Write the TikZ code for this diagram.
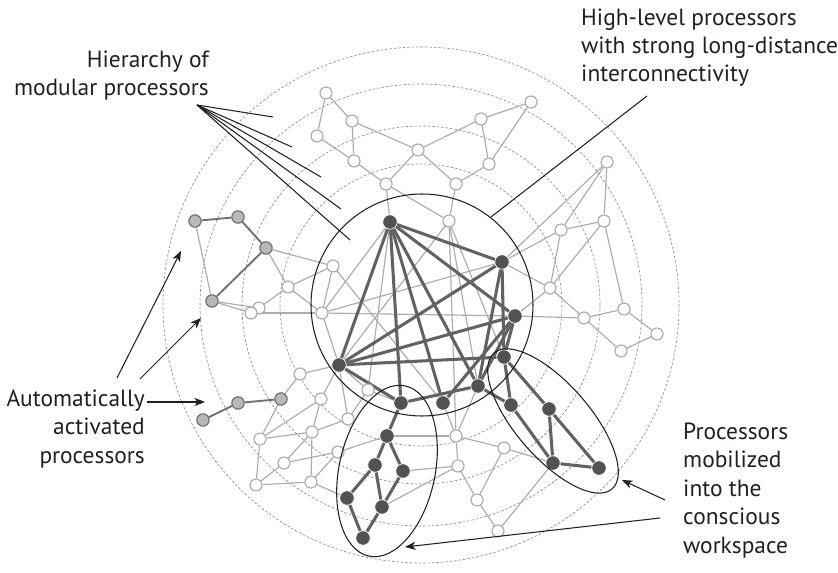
\documentclass[tikz,border=0pt]{standalone}
\usepackage{fontspec}
\setmainfont{PT Sans}
\usepackage{xcolor}
\definecolor{ColD}{RGB}{82,82,82}
\definecolor{ColDE}{RGB}{98,98,98}
\definecolor{ColL}{RGB}{172,172,172}
\definecolor{ColG}{RGB}{184,184,184}
\definecolor{ColGD}{RGB}{112,112,112}
\definecolor{ColR}{RGB}{140,140,140}
\definecolor{ColT}{RGB}{35,31,32}
\usetikzlibrary{arrows.meta}
\usetikzlibrary{backgrounds}
\tikzstyle{NodeW}=[circle,draw=ColL,fill=white,line width=1pt,inner sep=0pt,
minimum size=.36cm]
\tikzstyle{NodeD}=[circle,draw=white,fill=ColD,line width=.5pt,inner sep=0pt,
minimum size=.43cm]
\tikzstyle{NodeG}=[circle,draw=ColGD,fill=ColG,line width=1pt,inner sep=0pt,
minimum size=.37cm]
\tikzstyle{Edge}=[draw=ColL,line width=1pt]
\tikzstyle{EdgeS}=[draw=ColDE,line width=2.6pt]
\tikzstyle{EdgeG}=[draw=ColGD,line width=1.6pt]
\tikzstyle{Ring}=[draw=ColR,line width=.55pt,dash pattern=on 2.2pt off 1.6pt]
\tikzstyle{Hull}=[draw=ColT,line width=.9pt]
\tikzstyle{Pointer}=[draw=ColT,line width=.9pt]
\tikzstyle{PointerA}=[Pointer,-{Stealth[length=9pt,width=7pt,inset=2.5pt]}]
\tikzstyle{Label}=[font=\fontsize{20}{24.3}\selectfont,text=ColT,inner sep=0pt]

\begin{document}
\begin{tikzpicture}[x=.03cm,y=-.03cm]
        \useasboundingbox(0,0)rectangle(838,573);
        % workspace processors
        \node[NodeD](d1)at(390,222){};
        \node[NodeD](d2)at(502,262){};
        \node[NodeD](d3)at(515,316){};
        \node[NodeD](d4)at(339,365){};
        \node[NodeD](d5)at(504,357){};
        \node[NodeD](d6)at(478,386){};
        \node[NodeD](d7)at(443,403){};
        \node[NodeD](d8)at(401,403){};
        \node[NodeD](e1)at(511,405){};
        \node[NodeD](e2)at(549,409){};
        \node[NodeD](e3)at(553,463){};
        \node[NodeD](e4)at(599,468){};
        \node[NodeD](f1)at(387,436){};
        \node[NodeD](f2)at(375,465){};
        \node[NodeD](f3)at(403,471){};
        \node[NodeD](f4)at(347,498){};
        \node[NodeD](f5)at(382,507){};
        \node[NodeD](f6)at(363,538){};
        % automatically activated
        \node[NodeG](g1)at(195,221){};
        \node[NodeG](g2)at(238,217){};
        \node[NodeG](g3)at(266,248){};
        \node[NodeG](g4)at(212,301){};
        \node[NodeG](g5)at(203,420){};
        \node[NodeG](g6)at(238,403){};
        \node[NodeG](g7)at(281,399){};
        % modular processors
        \node[NodeW](a1)at(326,93){};
        \node[NodeW](a2)at(352,121){};
        \node[NodeW](a3)at(317,136){};
        \node[NodeW](a4)at(354,161){};
        \node[NodeW](a5)at(418,150){};
        \node[NodeW](a6)at(386,184){};
        \node[NodeW](a7)at(456,184){};
        \node[NodeW](a8)at(481,119){};
        \node[NodeW](a9)at(489,164){};
        \node[NodeW](a10)at(531,102){};
        \node[NodeW](a11)at(449,221){};
        \node[NodeW](b1)at(607,162){};
        \node[NodeW](b2)at(604,221){};
        \node[NodeW](b3)at(561,230){};
        \node[NodeW](b4)at(550,288){};
        \node[NodeW](b5)at(624,309){};
        \node[NodeW](b6)at(584,318){};
        \node[NodeW](b7)at(657,334){};
        \node[NodeW](b8)at(621,351){};
        \node[NodeW](c1)at(333,266){};
        \node[NodeW](c2)at(288,287){};
        \node[NodeW](c3)at(259,308){};
        \node[NodeW](c4)at(251,313){};
        \node[NodeW](c5)at(322,313){};
        \node[NodeW](l1)at(300,374){};
        \node[NodeW](l2)at(321,399){};
        \node[NodeW](l3)at(348,419){};
        \node[NodeW](l4)at(312,432){};
        \node[NodeW](l5)at(260,439){};
        \node[NodeW](l6)at(284,463){};
        \node[NodeW](l7)at(338,452){};
        \node[NodeW](l8)at(256,485){};
        \node[NodeW](l9)at(311,482){};
        \node[NodeW](l10)at(368,390){};
        \node[NodeW](w1)at(456,436){};
        \node[NodeW](w2)at(504,448){};
        \node[NodeW](w3)at(458,466){};
        \node[NodeW](w4)at(477,500){};
        \node[NodeW](w5)at(498,531){};
        \begin{pgfonlayer}{background}
        \foreach \r in {141,179,221,258}
            \draw[Ring](421,305)circle[radius=\r];
        \foreach \s/\t in {a1/a2,a1/a3,a2/a4,a3/a4,a2/a5,a4/a6,a5/a6,a6/d1,
            a5/a7,a5/a8,a8/a9,a8/a10,a10/a9,a9/a7,a7/a11,a6/a11,
            b1/b2,b1/b3,b1/d2,b2/b3,b2/b4,b2/b5,b3/b4,b3/d2,b4/d3,b4/d2,
            b4/b6,b6/b5,b6/d3,b5/b7,b6/b8,b8/b7,
            g1/g4,g3/c1,g3/c2,c1/c2,c2/c3,c2/c5,g4/c3,g4/c4,c4/c5,c1/c5,
            c5/d3,c5/d2,c5/d4,c5/d1,c1/d7,
            a11/d4,a11/d6,a11/d5,a11/w1,d1/l10,
            g7/l1,g7/l5,l1/d4,l2/d4,l2/l4,l5/l2,l5/l4,l4/l3,l3/d4,l4/l6,
            l4/l9,l6/l7,l6/l8,l5/l8,l8/l9,l9/l7,l7/f1,l10/d4,l10/d8,
            l10/l3,l9/f4,
            f1/w1,d7/w1,d6/w1,w1/w2,w1/w3,w3/w4,w4/w5,w2/w4,w2/e3,w5/e3,
            f3/w3,f5/w3}
            \draw[Edge](\s)--(\t);
        \foreach \s/\t in {g1/g2,g2/g3,g3/g4,g5/g6,g6/g7}
            \draw[EdgeG](\s)--(\t);
        \foreach \s/\t in {d1/d2,d1/d3,d1/d4,d1/d8,d1/d7,d1/d6,d4/d2,d4/d3,
            d4/d5,d4/d8,d2/d5,d2/d6,d3/d5,d3/d6,d3/d7,d8/d6,d6/e1,d5/e1,
            d5/e2,e1/e3,e2/e3,e2/e4,e3/e4,d8/f1,f1/f2,f1/f3,f2/f4,f2/f5,
            f3/f5,f4/f6,f5/f6}
            \draw[EdgeS](\s)--(\t);
        \end{pgfonlayer}
        % hulls
        \draw[Hull](422,305)circle[radius=111];
        \draw[Hull,shift={(387,471)},rotate=78](0,0)ellipse[x radius=87,y radius=48];
        \draw[Hull,shift={(553,421)},rotate=-49](0,0)ellipse[x radius=90,y radius=37];
        % labels (base = last line)
        \node[Label,anchor=base east,align=right](hier)at(209,96)
            {Hierarchy of\\modular processors};
        \node[Label,anchor=base west,align=left](high)at(581,82)
            {High-level processors\\with strong long-distance\\interconnectivity};
        \node[Label,anchor=base east,align=right](auto)at(145,463)
            {Automatically\\activated\\processors};
        \node[Label,anchor=base west,align=left](mob)at(683,553)
            {Processors\\mobilized\\into the\\conscious\\workspace};
        \coordinate(h0)at(197,105);
        \coordinate(h1)at(273,117);
        \coordinate(h2)at(292,147);
        \coordinate(h3)at(321,177);
        \coordinate(h4)at(341,209);
        \coordinate(h5)at(350,240);
        \foreach \t in {h1,h2,h3,h4,h5}
            \draw[Pointer](h0)--(\t);
        \coordinate(k0)at(647,96);
        \coordinate(k1)at(491,217);
        \draw[Pointer](k0)--(k1);
        \coordinate(p0)at(117,378);
        \coordinate(p1)at(181,251);
        \coordinate(p2)at(140,379);
        \coordinate(p3)at(201,318);
        \coordinate(p4)at(147,402);
        \coordinate(p5)at(205,402);
        \draw[PointerA](p0)--(p1);
        \draw[PointerA](p2)--(p3);
        \draw[PointerA](p4)--(p5);
        \coordinate(q0)at(665,500);
        \coordinate(q1)at(622,480);
        \coordinate(q2)at(660,518);
        \coordinate(q3)at(405,547);
        \draw[PointerA](q0)--(q1);
        \draw[PointerA](q2)--(q3);
    \end{tikzpicture}
\end{document}
